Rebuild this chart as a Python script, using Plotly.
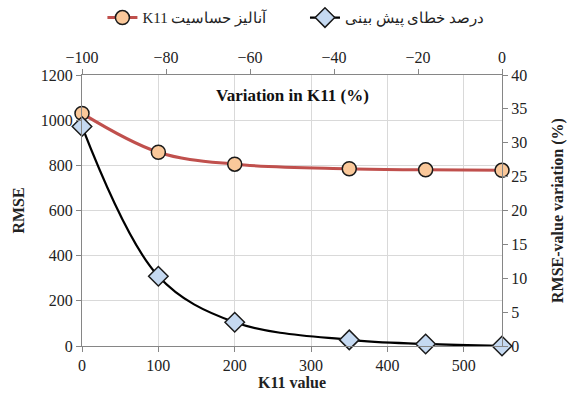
import plotly.graph_objects as go

k11_values = [0, 100, 200, 350, 450, 550]
rmse_values = [1030, 858, 805, 785, 780, 778]
rmse_variation_pct = [32.4, 10.3, 3.5, 0.9, 0.3, 0.0]
top_ticks = [-100, -80, -60, -40, -20, 0]

name_rmse = "K11 آنالیز حساسیت"
name_var = "درصد خطای پیش بینی"

FONT = "Liberation Serif"
AXC = "#868686"
GRID = "#D9D9D9"

fig = go.Figure()
fig.add_trace(go.Scatter(
    x=k11_values, y=rmse_values, name=name_rmse, mode="lines+markers",
    line=dict(color="#C0504D", width=3, shape="spline", smoothing=1.0),
    marker=dict(symbol="circle", size=14, color="#FAC89A", line=dict(color="#1a1a1a", width=1.5)),
    xaxis="x", yaxis="y", cliponaxis=False, legend="legend",
))
fig.add_trace(go.Scatter(
    x=k11_values, y=rmse_variation_pct, name=name_var, mode="lines+markers",
    line=dict(color="#000000", width=2.2, shape="spline", smoothing=1.0),
    marker=dict(symbol="diamond", size=15, color="#C5D9F1", line=dict(color="#1a1a1a", width=1.5)),
    xaxis="x", yaxis="y2", cliponaxis=False, legend="legend2",
))
# invisible trace to activate top axis
fig.add_trace(go.Scatter(x=[top_ticks[0], top_ticks[-1]], y=[0, 0], xaxis="x2", yaxis="y",
                         showlegend=False, hoverinfo="skip", mode="lines", line=dict(width=0),
                         opacity=0))

tickfont = dict(family=FONT, size=16)
titlefont = dict(family=FONT, size=16, weight="bold")
legfont = dict(family=FONT, size=15)

fig.update_layout(
    width=569, height=396,
    margin=dict(l=82, r=67, t=75, b=50, autoexpand=False),
    paper_bgcolor="white", plot_bgcolor="white",
    font=dict(family=FONT, size=16, color="#222222"),
    xaxis=dict(range=[0, 550], tickvals=[0, 100, 200, 300, 400, 500],
               showgrid=True, gridcolor=GRID, gridwidth=1,
               showline=True, linecolor=AXC, linewidth=1,
               ticks="outside", ticklen=5, tickcolor=AXC,
               tickfont=tickfont, zeroline=False,
               title=dict(text="K11 value", font=titlefont, standoff=2)),
    xaxis2=dict(range=[-100, 0], tickvals=top_ticks, overlaying="x", side="top", anchor="y",
                showgrid=False, showline=True, linecolor=AXC, linewidth=1,
                ticks="outside", ticklen=5, tickcolor=AXC,
                tickfont=tickfont, zeroline=False),
    yaxis=dict(range=[0, 1200], dtick=200,
               showgrid=True, gridcolor=GRID, gridwidth=1,
               showline=True, linecolor=AXC, linewidth=1,
               ticks="outside", ticklen=5, tickcolor=AXC,
               tickfont=tickfont, zeroline=False,
               title=dict(text="RMSE", font=titlefont, standoff=12)),
    yaxis2=dict(range=[0, 40], dtick=5, overlaying="y", side="right", anchor="x",
                showgrid=False, showline=True, linecolor=AXC, linewidth=1,
                ticks="outside", ticklen=5, tickcolor=AXC,
                tickfont=tickfont, zeroline=False,
                title=dict(text="RMSE-value variation (%)", font=titlefont, standoff=25)),
    legend=dict(orientation="h", xref="container", x=0.18, xanchor="left",
                yref="container", y=0.955, yanchor="middle",
                font=legfont, bgcolor="rgba(0,0,0,0)", borderwidth=0),
    legend2=dict(orientation="h", xref="container", x=0.536, xanchor="left",
                 yref="container", y=0.955, yanchor="middle",
                 font=legfont, bgcolor="rgba(0,0,0,0)", borderwidth=0),
    showlegend=True,
    annotations=[dict(text="<b>Variation in K11 (%)</b>", x=0.5, y=0.925, xref="paper", yref="paper",
                      xanchor="center", yanchor="middle", showarrow=False,
                      font=dict(family=FONT, size=17, color="#111111"))],
)

fig.write_html("out.html")
